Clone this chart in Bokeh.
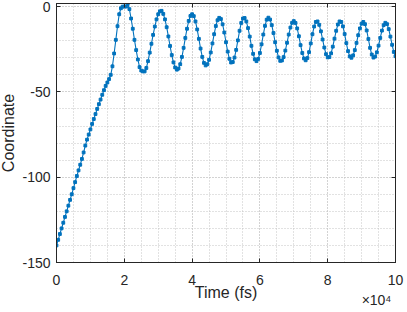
from bokeh.plotting import figure
from bokeh.models import FixedTicker, LinearAxis, Range1d
from bokeh.embed import file_html
from bokeh.resources import INLINE

coordinate = [
    -140.0, -136.7, -133.3, -130.0, -126.7, -123.3, -120.0, -116.7, -113.3, -110.0,
    -106.4, -102.9, -99.3, -96.0, -92.7, -89.3, -85.5, -81.5, -78.0, -75.0,
    -72.0, -68.8, -65.9, -63.0, -60.0, -57.2, -54.5, -51.7, -49.0, -46.5,
    -44.5, -42.5, -40.0, -35.0, -27.5, -19.5, -11.5, -4.5, -1.0, 0.0,
    0.0, 0.0, 1.5, -1.5, -7.0, -13.0, -19.5, -25.5, -31.0, -35.5,
    -37.5, -38.0, -38.0, -36.0, -32.0, -27.0, -21.8, -16.6, -11.7, -7.5,
    -4.5, -2.8, -2.5, -4.3, -7.5, -12.1, -17.5, -23.1, -28.4, -32.7,
    -35.7, -37.0, -36.3, -33.8, -29.5, -24.2, -18.4, -13.0, -8.4, -5.5,
    -4.5, -5.6, -8.7, -13.4, -18.9, -24.6, -29.5, -33.0, -34.5, -33.8,
    -31.2, -26.9, -21.6, -16.2, -11.4, -8.0, -6.6, -7.3, -10.4, -15.2,
    -20.9, -26.4, -30.6, -32.8, -32.5, -29.9, -25.4, -19.8, -14.2, -9.6,
    -7.0, -6.7, -8.7, -12.6, -17.6, -23.0, -27.7, -30.9, -32.0, -30.7,
    -27.2, -22.1, -16.4, -11.3, -7.7, -6.5, -7.6, -10.9, -15.5, -20.9,
    -25.9, -29.8, -31.8, -31.6, -29.6, -25.8, -21.2, -16.4, -12.3, -9.5,
    -8.5, -9.6, -12.8, -17.4, -22.6, -27.2, -30.4, -31.5, -30.2, -26.7,
    -21.6, -16.2, -11.7, -9.0, -8.7, -10.7, -14.5, -19.3, -24.0, -27.9,
    -29.8, -29.6, -27.4, -23.5, -18.8, -14.2, -10.5, -8.7, -9.0, -11.6,
    -16.1, -21.4, -26.1, -29.2, -30.0, -28.6, -25.5, -21.3, -16.8, -12.8,
    -10.0, -9.0, -10.3, -14.0, -19.0, -24.2, -28.1, -29.9, -29.3, -26.8,
    -22.9, -18.4, -14.1, -10.9, -9.5, -10.3, -13.2, -17.6, -22.4, -26.6,
    -29.1,
]
sample_step_fs = 500
time_fs = [sample_step_fs * i for i in range(len(coordinate))]

x_ticks = [0, 20000, 40000, 60000, 80000, 100000]
x_tick_labels = ["0", "2", "4", "6", "8", "10"]
x_minor_ticks = [0, 5000, 10000, 15000, 20000, 25000, 30000, 35000, 40000, 45000, 50000,
                 55000, 60000, 65000, 70000, 75000, 80000, 85000, 90000, 95000, 100000]
y_ticks = [-150, -100, -50, 0]
y_tick_labels = ["-150", "-100", "-50", "0"]
y_minor_ticks = [-150, -140, -130, -120, -110, -100, -90, -80, -70, -60, -50,
                 -40, -30, -20, -10, 0]
x_exponent_label = "×10⁴"

FONT = "Liberation Sans"
DARK = "#262626"
GRID = "#c4c4c4"
BLUE = "#0072BD"

p = figure(width=408, height=314, output_backend="svg", toolbar_location=None,
           x_range=Range1d(0, 100000), y_range=Range1d(-150, 1.8),
           min_border_left=56, min_border_right=10, min_border_top=7,
           min_border_bottom=48, margin=(-4, 0, 0, -3))
p.background_fill_color = "white"
p.border_fill_color = "white"
p.outline_line_color = DARK
p.outline_line_width = 1

xt = FixedTicker(ticks=x_ticks, minor_ticks=x_minor_ticks)
yt = FixedTicker(ticks=y_ticks, minor_ticks=y_minor_ticks)

def style_axis(ax, ticker, ticks, labels, show=True):
    ax.ticker = ticker
    ax.axis_line_color = DARK
    ax.major_tick_line_color = DARK
    ax.major_tick_in = 4
    ax.major_tick_out = 0
    ax.minor_tick_in = 0
    ax.minor_tick_out = 0
    ax.major_label_text_font = FONT
    ax.major_label_text_color = DARK
    ax.major_label_text_font_size = "14px"
    if show:
        ax.major_label_overrides = dict(zip(ticks, labels))
    else:
        ax.major_label_overrides = {t: "" for t in ticks}
        ax.major_label_standoff = 0

style_axis(p.xaxis[0], xt, x_ticks, x_tick_labels)
style_axis(p.yaxis[0], yt, y_ticks, y_tick_labels)
p.xaxis[0].major_label_standoff = 12
p.yaxis[0].major_label_standoff = 6

p.xaxis[0].axis_label = "Time (fs)"
p.yaxis[0].axis_label = "Coordinate"
for ax in (p.xaxis[0], p.yaxis[0]):
    ax.axis_label_text_font = FONT
    ax.axis_label_text_font_size = "16px"
    ax.axis_label_text_font_style = "normal"
    ax.axis_label_text_color = DARK
p.xaxis[0].axis_label_standoff = -4
p.yaxis[0].axis_label_standoff = 2

top_ax = LinearAxis()
right_ax = LinearAxis()
style_axis(top_ax, xt, x_ticks, x_tick_labels, show=False)
style_axis(right_ax, yt, y_ticks, y_tick_labels, show=False)
p.add_layout(top_ax, "above")
p.add_layout(right_ax, "right")

# exponent note "x10^4" under the right end of the x axis, drawn as a label-only axis
exp_pos = 94400
exp_ax = LinearAxis(ticker=FixedTicker(ticks=[exp_pos], minor_ticks=[]),
                    major_label_overrides={exp_pos: x_exponent_label})
exp_ax.axis_line_color = None
exp_ax.major_tick_line_color = None
exp_ax.minor_tick_line_color = None
exp_ax.major_tick_in = 0
exp_ax.major_tick_out = 0
exp_ax.major_label_text_font = FONT
exp_ax.major_label_text_font_size = "14px"
exp_ax.major_label_text_color = DARK
exp_ax.major_label_standoff = -12
p.add_layout(exp_ax, "below")

for g, t in ((p.xgrid[0], xt), (p.ygrid[0], yt)):
    g.ticker = t
    g.grid_line_color = GRID
    g.grid_line_dash = "1 2"
    g.grid_line_width = 1
    g.minor_grid_line_color = GRID
    g.minor_grid_line_dash = "1 2"
    g.minor_grid_line_width = 1

p.line(time_fs, coordinate, line_color=BLUE, line_width=1.1)
p.scatter(time_fs, coordinate, marker="square", size=2.8, fill_color=BLUE,
          line_color=BLUE)

open("out.html", "w").write(file_html(p, INLINE))
